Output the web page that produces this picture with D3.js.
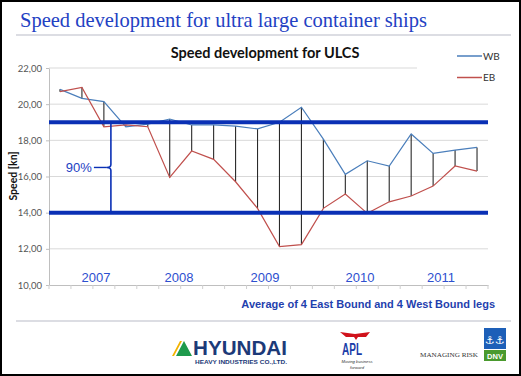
<!DOCTYPE html>
<html><head><meta charset="utf-8">
<script src="https://cdn.jsdelivr.net/npm/d3@7"></script>
<style>html,body{margin:0;padding:0;background:#fff;}svg{display:block;}</style>
</head><body>
<svg id="c" width="521" height="376"></svg>
<script>
// ---------- data ----------
const categories = ["07a","07b","07c","07d","07e","08a","08b","08c","08d","08e","09a","09b","09c","09d","09e","10a","10b","10c","11a","11b"];
const wbValues = [20.82, 20.32, 20.14, 18.75, 18.9, 19.18, 18.85, 18.85, 18.79, 18.63, 19.0, 19.83, 18.07, 16.12, 16.87, 16.58, 18.35, 17.28, 17.46, 17.61];
const ebValues = [20.69, 20.93, 18.75, 18.85, 18.75, 15.95, 17.41, 16.95, 15.71, 14.24, 12.12, 12.23, 14.24, 15.03, 13.96, 14.6, 14.92, 15.47, 16.58, 16.3];
const yTicks = [10, 12, 14, 16, 18, 20, 22];
const yearLabels = ["2007", "2008", "2009", "2010", "2011"];
const yearAt = [1.64, 5.42, 9.34, 13.67, 17.36];   // in category-index units
const bandLevels = [19, 14];
const bandLabel = "90%";
const bracketAt = 2.32;                              // category-index units
const seriesNames = ["WB", "EB"];
const seriesColors = ["#4a7ebb", "#c0504d"];

// ---------- setup ----------
const svg = d3.select("#c");
const L = 49, R = 488, T = 68, B = 285;
const x = d3.scaleBand().domain(categories).range([L, R]).padding(0);
const cx = c => x(c) + x.bandwidth() / 2;
const xi = i => L + x.bandwidth() * (i + 0.5);
const y = d3.scaleLinear().domain([10, 22]).range([B, T]);

// frame
svg.append("rect").attr("x", 1).attr("y", 1).attr("width", 519).attr("height", 374)
  .attr("fill", "#fff").attr("stroke", "#000").attr("stroke-width", 2);

// page title
svg.append("text").attr("x", 20).attr("y", 27)
  .attr("font-family", "'Liberation Serif','Times New Roman',serif").attr("font-size", 21)
  .attr("fill", "#2341c3").attr("textLength", 407).attr("lengthAdjust", "spacingAndGlyphs")
  .text("Speed development for ultra large container ships");
svg.append("line").attr("x1", 16).attr("x2", 511).attr("y1", 35).attr("y2", 35)
  .attr("stroke", "#dcdde3").attr("stroke-width", 2);
svg.append("line").attr("x1", 16).attr("x2", 511).attr("y1", 321).attr("y2", 321)
  .attr("stroke", "#dcdde3").attr("stroke-width", 2);

// chart title
svg.append("text").attr("x", 265).attr("y", 58).attr("text-anchor", "middle")
  .attr("font-family", "Lato, 'Open Sans', sans-serif").attr("font-weight", "bold").attr("font-size", 14.5)
  .attr("fill", "#111").text("Speed development for ULCS");

// gridlines
const g = svg.append("g");
g.selectAll("line.grid").data(yTicks.filter(t => t > 10)).enter().append("line")
  .attr("x1", L).attr("x2", d => d === 22 ? 417 : R)
  .attr("y1", d => y(d)).attr("y2", d => y(d))
  .attr("stroke", "#d9d9d9").attr("stroke-width", 1);

// y axis
const yAxis = svg.append("g").attr("transform", `translate(${L},0)`)
  .call(d3.axisLeft(y).tickValues(yTicks).tickSize(3).tickSizeOuter(0)
    .tickFormat(d => d3.format(".2f")(d).replace(".", ",")));
yAxis.select(".domain").attr("stroke", "#bfbfbf");
yAxis.selectAll(".tick line").attr("stroke", "#bfbfbf");
yAxis.selectAll("text").attr("font-family", "Lato, 'Open Sans', sans-serif").attr("font-size", 9.5)
  .attr("fill", "#555").attr("dx", -1);

// x axis
const xAxis = svg.append("g").attr("transform", `translate(0,${B})`)
  .call(d3.axisBottom(x).tickSize(0).tickFormat(""));
xAxis.select(".domain").attr("stroke", "#bfbfbf");
xAxis.selectAll(".bnd").data(d3.range(categories.length + 1)).enter().append("line")
  .attr("x1", i => L + i * x.bandwidth()).attr("x2", i => L + i * x.bandwidth())
  .attr("y1", 0).attr("y2", 4).attr("stroke", "#cfcfcf");

// y axis label
svg.append("text").attr("transform", "translate(17,176) rotate(-90)").attr("text-anchor", "middle")
  .attr("font-family", "Lato, 'Open Sans', sans-serif").attr("font-weight", "bold").attr("font-size", 10.5)
  .attr("fill", "#111").text("Speed [kn]");

// high-low lines
const defs = svg.append("defs");
defs.append("filter").attr("id", "blur").attr("x", "-3").attr("width", "7")
  .append("feGaussianBlur").attr("stdDeviation", 1.2);
const hl = svg.append("g");
categories.forEach((c, i) => {
  const hi = Math.max(wbValues[i], ebValues[i]), lo = Math.min(wbValues[i], ebValues[i]);
  hl.append("line").attr("x1", cx(c) + 1.3).attr("x2", cx(c) + 1.3).attr("y1", y(hi)).attr("y2", y(lo))
    .attr("stroke", "#7a7a7a").attr("stroke-width", 3.5).attr("filter", "url(#blur)");
  hl.append("line").attr("x1", cx(c)).attr("x2", cx(c)).attr("y1", y(hi)).attr("y2", y(lo))
    .attr("stroke", "#2a2a2a").attr("stroke-width", 1.1);
});

// series lines
const line = d3.line().x((d, i) => cx(categories[i])).y(d => y(d));
[wbValues, ebValues].forEach((vals, k) => {
  svg.append("path").attr("d", line(vals)).attr("fill", "none")
    .attr("stroke", seriesColors[k]).attr("stroke-width", 1.2);
});

// band lines
svg.selectAll("line.band").data(bandLevels).enter().append("line")
  .attr("x1", L).attr("x2", R).attr("y1", d => y(d)).attr("y2", d => y(d))
  .attr("stroke", "#0a30b5").attr("stroke-width", 4);

// bracket
const bx = xi(bracketAt), by1 = y(bandLevels[0]), by2 = y(bandLevels[1]), bm = (by1 + by2) / 2;
svg.append("path")
  .attr("d", `M${bx},${by1} V${bm - 3} Q${bx},${bm} ${bx - 4},${bm} Q${bx},${bm} ${bx},${bm + 3} V${by2}`)
  .attr("fill", "none").attr("stroke", "#0a30b5").attr("stroke-width", 1.6);
svg.append("line").attr("x1", bx - 17).attr("x2", bx - 4).attr("y1", bm).attr("y2", bm)
  .attr("stroke", "#0a30b5").attr("stroke-width", 1.4);
svg.append("text").attr("x", bx - 19).attr("y", bm + 4.5).attr("text-anchor", "end")
  .attr("font-family", "'Liberation Sans', Arial, sans-serif").attr("font-size", 13)
  .attr("fill", "#2341c3").text(bandLabel);

// year labels
svg.selectAll("text.year").data(yearLabels).enter().append("text")
  .attr("x", (d, i) => xi(yearAt[i])).attr("y", 282).attr("text-anchor", "middle")
  .attr("font-family", "'Liberation Sans', Arial, sans-serif").attr("font-size", 13)
  .attr("fill", "#2d4fcf").text(d => d);

// legend
seriesNames.forEach((n, k) => {
  const ly = 56 + k * 21.5;
  svg.append("line").attr("x1", 457).attr("x2", 482).attr("y1", ly).attr("y2", ly)
    .attr("stroke", seriesColors[k]).attr("stroke-width", 1.5);
  svg.append("text").attr("x", 483).attr("y", ly + 3.5)
    .attr("font-family", "Lato, 'Open Sans', sans-serif").attr("font-size", 10)
    .attr("fill", "#333").text(n);
});

// footnote
svg.append("text").attr("x", 495).attr("y", 308).attr("text-anchor", "end")
  .attr("font-family", "'Liberation Sans', Arial, sans-serif").attr("font-weight", "bold").attr("font-size", 11)
  .attr("fill", "#1f3fae").text("Average of 4 East Bound and 4 West Bound legs");

// ---------- logos ----------
// Hyundai
svg.append("polygon").attr("points", "172,356 180,341 182,341 174,356").attr("fill", "#f3b300");
svg.append("polygon").attr("points", "176,356 184,341 192,356").attr("fill", "#1f9a4c");
svg.append("text").attr("x", 193).attr("y", 355).attr("font-family", "'Liberation Sans', Arial, sans-serif")
  .attr("font-weight", "bold").attr("font-size", 19.5).attr("fill", "#1c3a78")
  .attr("textLength", 94).attr("lengthAdjust", "spacingAndGlyphs").text("HYUNDAI");
svg.append("text").attr("x", 195).attr("y", 364).attr("font-family", "'Liberation Sans', Arial, sans-serif")
  .attr("font-weight", "bold").attr("font-size", 5).attr("fill", "#1c3a78")
  .attr("textLength", 92).attr("lengthAdjust", "spacingAndGlyphs").text("HEAVY INDUSTRIES CO.,LTD.");
// APL
svg.append("path").attr("d", "M340,332 L355,334 L370,332 L366,337 L358,337 L356,340 L354,337 L346,337 Z").attr("fill", "#d0121b");
svg.append("text").attr("x", 352).attr("y", 355).attr("text-anchor", "middle")
  .attr("font-family", "'Liberation Sans', Arial, sans-serif").attr("font-weight", "bold").attr("font-size", 16)
  .attr("fill", "#1a3ca8").attr("textLength", 20).attr("lengthAdjust", "spacingAndGlyphs").text("APL");
svg.append("text").attr("x", 357).attr("y", 363).attr("text-anchor", "middle")
  .attr("font-family", "'Liberation Sans', Arial, sans-serif").attr("font-style", "italic").attr("font-size", 4.2)
  .attr("fill", "#333").text("Moving business");
svg.append("text").attr("x", 357).attr("y", 369).attr("text-anchor", "middle")
  .attr("font-family", "'Liberation Sans', Arial, sans-serif").attr("font-style", "italic").attr("font-size", 4.2)
  .attr("fill", "#333").text("forward");
// DNV
svg.append("text").attr("x", 420).attr("y", 357)
  .attr("font-family", "'Liberation Serif','Times New Roman',serif").attr("font-size", 6.5)
  .attr("fill", "#333").attr("textLength", 58).attr("lengthAdjust", "spacingAndGlyphs").text("MANAGING RISK");
svg.append("rect").attr("x", 484).attr("y", 328).attr("width", 22).attr("height", 21).attr("fill", "#1d5fb8");
svg.append("text").attr("x", 490).attr("y", 344).attr("text-anchor", "middle")
  .attr("font-family", "'DejaVu Sans', sans-serif").attr("font-size", 11).attr("fill", "#fff").text("⚓");
svg.append("text").attr("x", 500).attr("y", 344).attr("text-anchor", "middle")
  .attr("font-family", "'DejaVu Sans', sans-serif").attr("font-size", 11).attr("fill", "#fff").text("⚓");
svg.append("rect").attr("x", 484).attr("y", 350).attr("width", 22).attr("height", 11).attr("fill", "#4a9a2e");
svg.append("text").attr("x", 495).attr("y", 358.5).attr("text-anchor", "middle")
  .attr("font-family", "'Liberation Sans', Arial, sans-serif").attr("font-weight", "bold").attr("font-size", 7.5)
  .attr("fill", "#fff").text("DNV");
</script>
</body></html>
